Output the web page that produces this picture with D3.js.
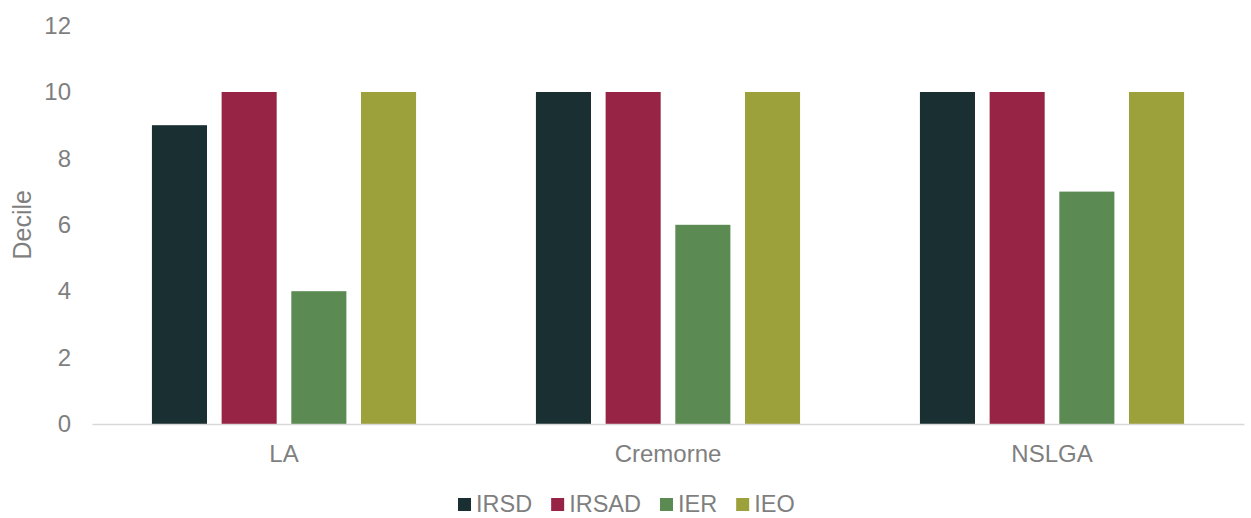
<!DOCTYPE html>
<html>
<head>
<meta charset="utf-8">
<script src="https://cdn.jsdelivr.net/npm/d3@7"></script>
<style>
  html, body { margin: 0; padding: 0; background: #fff; }
  svg { display: block; }
  text { font-family: "Liberation Sans", Arial, sans-serif; fill: #7f7f7f; }
</style>
</head>
<body>
<svg id="chart" width="1251" height="518"></svg>
<script>
// Socio-economic index deciles by area
const categories = ["LA", "Cremorne", "NSLGA"];
const seriesNames = ["IRSD", "IRSAD", "IER", "IEO"];
const IRSD  = [9, 10, 10];
const IRSAD = [10, 10, 10];
const IER   = [4, 6, 7];
const IEO   = [10, 10, 10];
const seriesValues = [IRSD, IRSAD, IER, IEO];
const seriesColors = ["#1a2f31", "#982445", "#5b8a52", "#9ca13b"];
const yTicks = [0, 2, 4, 6, 8, 10, 12];

const svg = d3.select("#chart");
const W = 1251, H = 518;
const plotLeft = 92, plotRight = 1244;
const plotTop = 25.6, plotBottom = 424;
const fontStack = '"Liberation Sans", Arial, sans-serif';

const x0 = d3.scaleBand().domain(categories).range([plotLeft, plotRight]).padding(0);
// 4 bars of ~55px with ~14.7px gaps, centred in each 384px category band
const x1 = d3.scaleBand().domain(seriesNames).range([0, x0.bandwidth()])
  .paddingInner(0.21).paddingOuter(0.86);
const y = d3.scaleLinear().domain([0, 12]).range([plotBottom, plotTop]);

// y axis tick labels (no axis line, no tick marks)
const yAxis = d3.axisLeft(y).tickValues(yTicks).tickSize(0).tickPadding(0);
const yg = svg.append("g").attr("transform", `translate(71,0)`).call(yAxis);
yg.select(".domain").remove();
yg.selectAll("text").style("font-size", "24px").attr("fill", "#7f7f7f")
  .style("font-family", fontStack);

// y axis title
svg.append("text")
  .attr("transform", `translate(31,${(plotTop + plotBottom) / 2}) rotate(-90)`)
  .attr("text-anchor", "middle")
  .style("font-size", "25px")
  .text("Decile");

// bars
const groups = svg.append("g").selectAll("g")
  .data(categories)
  .join("g")
  .attr("transform", d => `translate(${x0(d)},0)`);

groups.selectAll("rect")
  .data((d, i) => seriesNames.map((s, j) => ({ s, v: seriesValues[j][i], c: seriesColors[j] })))
  .join("rect")
  .attr("x", d => x1(d.s))
  .attr("width", x1.bandwidth())
  .attr("y", d => y(d.v))
  .attr("height", d => y(0) - y(d.v))
  .attr("fill", d => d.c);

// x axis baseline and category labels
const xAxis = d3.axisBottom(x0).tickSize(0).tickPadding(20);
const xg = svg.append("g").attr("transform", `translate(0,${plotBottom})`).call(xAxis);
xg.select(".domain").attr("stroke", "#d9d9d9").attr("stroke-width", 1.3);
xg.selectAll("text").style("font-size", "24px").attr("fill", "#7f7f7f")
  .style("font-family", fontStack).attr("dy", null).attr("y", 37.5);

// legend
const legend = svg.append("g").attr("transform", "translate(0,512)");
let lx = 458;
seriesNames.forEach((name, i) => {
  const item = legend.append("g").attr("transform", `translate(${lx},0)`);
  item.append("rect").attr("x", 0).attr("y", -14).attr("width", 13).attr("height", 13)
    .attr("fill", seriesColors[i]);
  const t = item.append("text").attr("x", 18).attr("y", 0)
    .style("font-size", "23.5px").text(name);
  const w = t.node().getComputedTextLength();
  lx += 18 + w + 19;
});
</script>
</body>
</html>
